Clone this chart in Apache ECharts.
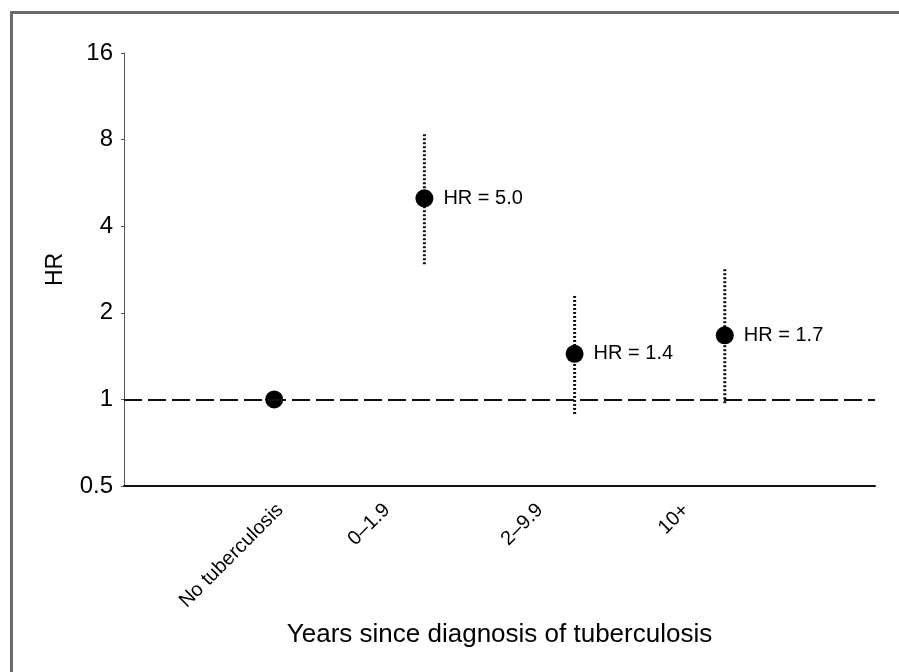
<!DOCTYPE html>
<html>
<head>
<meta charset="utf-8">
<script src="https://cdn.jsdelivr.net/npm/echarts@6/dist/echarts.min.js"></script>
<style>
    body { margin: 0; background: #fff; }
    .frame {
        position: absolute;
        left: 10px;
        top: 11px;
        right: 0;
        bottom: 0;
        border-top: 3px solid #6b6b6b;
        border-left: 3px solid #6b6b6b;
    }
    #chart {
        position: absolute;
        left: 0;
        top: 0;
        width: 899px;
        height: 672px;
    }
</style>
</head>
<body>
<div class="frame"></div>
<div id="chart"></div>
<script>
// groups on the x axis
const categories = ['No tuberculosis', '0\u20131.9', '2\u20139.9', '10+']
// where each rotated label sits on the x axis (axis units)
const labelAt = [1.04, 1.75, 2.77, 3.74]
// hazard ratios and 95% CI
const hr = [1.0, 5.0, 1.44, 1.67]
const ciLow = [null, 2.95, 0.89, 0.97]
const ciHigh = [null, 8.4, 2.32, 2.85]
const hrText = ['', 'HR = 5.0', 'HR = 1.4', 'HR = 1.7']
const yTicks = [0.5, 1, 2, 4, 8, 16]

const chart = echarts.init(document.getElementById('chart'))
const font = 'Liberation Sans, Arial, sans-serif'

let option = {
    animation: false,
    grid: {
        left: 124,
        right: 24,
        top: 53,
        bottom: 186
    },
    xAxis: {
        type: 'value',
        min: 0,
        max: 5,
        name: 'Years since diagnosis of tuberculosis',
        nameLocation: 'middle',
        nameGap: 136,
        nameTextStyle: { color: '#000', fontSize: 26, fontFamily: font },
        splitLine: { show: false },
        axisTick: { show: false },
        axisLine: { lineStyle: { color: '#111', width: 2 } },
        axisLabel: {
            customValues: labelAt,
            rotate: 45,
            margin: 21,
            color: '#000',
            fontSize: 20,
            fontFamily: font,
            formatter: (v) => {
                const i = labelAt.indexOf(v)
                return i >= 0 ? categories[i] : ''
            }
        }
    },
    yAxis: {
        type: 'log',
        logBase: 2,
        min: yTicks[0],
        max: yTicks[yTicks.length - 1],
        splitNumber: 5,
        name: 'HR',
        nameLocation: 'middle',
        nameGap: 57,
        nameTextStyle: { color: '#000', fontSize: 23, fontFamily: font },
        splitLine: { show: false },
        axisLine: { show: true, lineStyle: { color: '#555', width: 1 } },
        axisTick: { show: true, length: 3, lineStyle: { color: '#555' } },
        axisLabel: {
            margin: 11,
            color: '#000',
            fontSize: 24,
            fontFamily: font,
            formatter: (v) => String(+v.toFixed(2))
        }
    },
    series: [
        {
            // confidence intervals, dotted
            type: 'custom',
            data: categories.map((c, i) => [i + 1, ciLow[i], ciHigh[i]]).filter(d => d[1] != null),
            renderItem: (params, api) => {
                const lo = api.coord([api.value(0), api.value(1)])
                const hi = api.coord([api.value(0), api.value(2)])
                return {
                    type: 'line',
                    shape: { x1: lo[0], y1: lo[1], x2: hi[0], y2: hi[1] },
                    style: { stroke: '#111', lineWidth: 3, lineDash: [2, 2] }
                }
            },
            z: 2
        },
        {
            type: 'scatter',
            data: hr.map((v, i) => [i + 1, v]),
            symbolSize: 18,
            itemStyle: { color: '#000', opacity: 1 },
            label: {
                show: true,
                position: 'right',
                distance: 10,
                color: '#000',
                fontSize: 20,
                fontFamily: font,
                formatter: (p) => hrText[p.dataIndex]
            },
            markLine: {
                silent: true,
                symbol: 'none',
                label: { show: false },
                lineStyle: { color: '#111', width: 2, type: [18, 6] },
                data: [{ yAxis: 1 }]
            },
            z: 3
        }
    ]
}

chart.setOption(option)
</script>
</body>
</html>
